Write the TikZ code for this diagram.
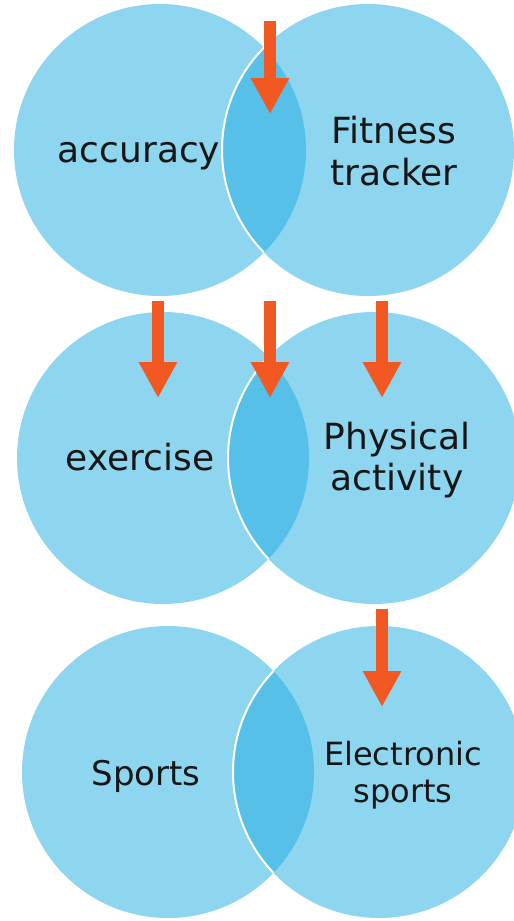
\documentclass[tikz,border=0pt]{standalone}
\usepackage{fontspec}
\setmainfont{DejaVu Sans}
\usetikzlibrary{arrows.meta}
\definecolor{lightb}{RGB}{142,214,240}
\definecolor{darkb}{RGB}{86,192,232}
\definecolor{arrowc}{RGB}{242,88,34}
\definecolor{txt}{RGB}{22,22,22}
\begin{document}
\begin{tikzpicture}[x=1pt,y=-1pt,
  venn/.style={circle, fill=lightb, minimum size=292pt, inner sep=0pt},
  lbl/.style={text=txt, font=\fontsize{36}{41.5}\selectfont, align=center, inner sep=0pt},
  downarrow/.style={arrowc, line width=12pt, -{Triangle[width=36pt,length=36pt]}}]
\useasboundingbox (0,0) rectangle (514,921);
% row 1
\node[venn] (L1) at (160,150) {};
\node[venn] (R1) at (368,150) {};
\begin{scope}
  \clip (L1.center) circle[radius=146pt];
  \fill[darkb] (R1.center) circle[radius=146pt];
  \draw[white, line width=2pt] (R1.center) circle[radius=146pt];
\end{scope}
% row 2
\node[venn] (L2) at (163,458) {};
\node[venn] (R2) at (374,458) {};
\begin{scope}
  \clip (L2.center) circle[radius=146pt];
  \fill[darkb] (R2.center) circle[radius=146pt];
  \draw[white, line width=2pt] (R2.center) circle[radius=146pt];
\end{scope}
% row 3
\node[venn] (L3) at (168,772) {};
\node[venn] (R3) at (379,772) {};
\begin{scope}
  \clip (L3.center) circle[radius=146pt];
  \fill[darkb] (R3.center) circle[radius=146pt];
  \draw[white, line width=2pt] (R3.center) circle[radius=146pt];
\end{scope}
% labels
\node[lbl, anchor=base] (tacc) at (139,162) {accuracy};
\node[lbl] (tfit) at (394,151) {Fitness\\tracker};
\node[lbl, anchor=base] (texe) at (140,470) {exercise};
\node[lbl] (tphy) at (397,460) {Physical\\activity};
\node[lbl, font=\fontsize{34}{41}\selectfont, anchor=base] (tspo) at (146,785) {Sports};
\node[lbl, font=\fontsize{32}{37}\selectfont] (tele) at (403,775) {Electronic\\sports};
% arrows
\coordinate (a1s) at (270,21);  \coordinate (a1e) at (270,114);
\coordinate (a2s) at (158,301); \coordinate (a2e) at (158,398);
\coordinate (a3s) at (270,301); \coordinate (a3e) at (270,398);
\coordinate (a4s) at (382,301); \coordinate (a4e) at (382,398);
\coordinate (a5s) at (382,609); \coordinate (a5e) at (382,707);
\draw[downarrow] (a1s) -- (a1e);
\draw[downarrow] (a2s) -- (a2e);
\draw[downarrow] (a3s) -- (a3e);
\draw[downarrow] (a4s) -- (a4e);
\draw[downarrow] (a5s) -- (a5e);
\end{tikzpicture}
\end{document}
